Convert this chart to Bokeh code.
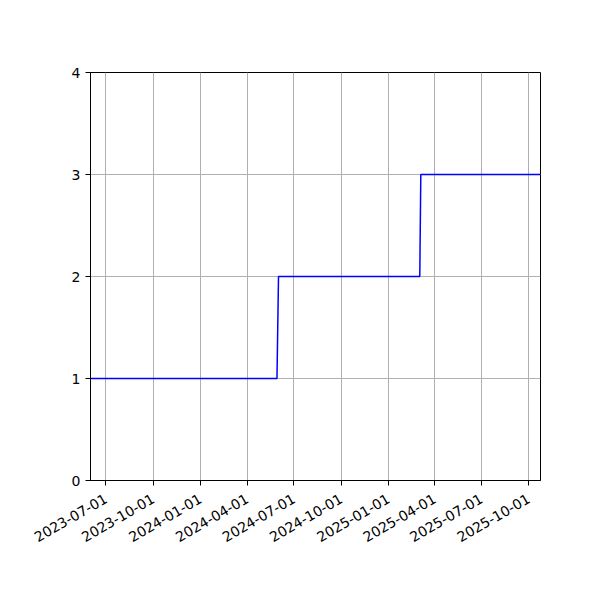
from datetime import datetime
from math import pi

from bokeh.embed import file_html
from bokeh.models import ColumnDataSource, DatetimeTickFormatter, FixedTicker, Range1d
from bokeh.plotting import figure
from bokeh.resources import INLINE

DATES = ["2023-06-01", "2024-05-29", "2024-06-01", "2025-03-03", "2025-03-05", "2025-10-24"]
VALUES = [1, 1, 2, 2, 3, 3]
TICK_DATES = ["2023-07-01", "2023-10-01", "2024-01-01", "2024-04-01", "2024-07-01",
              "2024-10-01", "2025-01-01", "2025-04-01", "2025-07-01", "2025-10-01"]
Y_TICKS = [0, 1, 2, 3, 4]


def ms(s):
    return datetime.strptime(s, "%Y-%m-%d").timestamp() * 1000


def main():
    x = [datetime.strptime(d, "%Y-%m-%d") for d in DATES]
    src = ColumnDataSource(data={"x": x, "y": VALUES})

    p = figure(width=592, height=592, x_axis_type="datetime",
               output_backend="svg", toolbar_location=None, tools="",
               min_border_left=90, min_border_right=52,
               min_border_top=72, min_border_bottom=112)
    p.x_range = Range1d(datetime.strptime(DATES[0], "%Y-%m-%d"),
                        datetime.strptime(DATES[-1], "%Y-%m-%d"))
    p.y_range = Range1d(0, 4)

    p.line("x", "y", source=src, line_color="blue", line_width=1.5)

    # Axes and grid styled like the matplotlib defaults
    p.xaxis.ticker = FixedTicker(ticks=[ms(d) for d in TICK_DATES])
    p.xaxis.formatter = DatetimeTickFormatter(days="%Y-%m-%d", months="%Y-%m-%d",
                                              years="%Y-%m-%d")
    p.xaxis.major_label_orientation = pi / 6
    p.xaxis.major_label_standoff = 12
    p.yaxis.ticker = FixedTicker(ticks=Y_TICKS)

    for ax in (p.xaxis, p.yaxis):
        ax.axis_line_color = "black"
        ax.major_tick_line_color = "black"
        ax.major_tick_out = 5
        ax.major_tick_in = 0
        ax.minor_tick_line_color = None
        ax.major_label_text_font = "DejaVu Sans"
        ax.major_label_text_font_size = "14px"
        ax.major_label_text_color = "black"

    for g in (p.xgrid, p.ygrid):
        g.grid_line_color = "#b0b0b0"
        g.grid_line_width = 1
    p.xgrid.ticker = p.xaxis.ticker
    p.ygrid.ticker = p.yaxis.ticker

    p.outline_line_color = "black"
    p.outline_line_alpha = 1
    p.background_fill_color = "white"
    p.border_fill_color = "white"

    open("out.html", "w").write(file_html(p, INLINE))


if __name__ == "__main__":
    main()
